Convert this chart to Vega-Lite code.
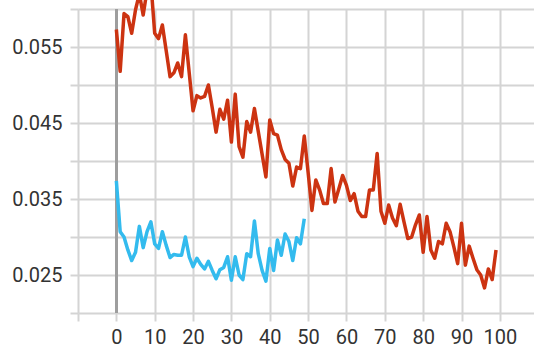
{
  "$schema": "https://vega.github.io/schema/vega-lite/v6.json",
  "width": 456,
  "height": 304,
  "autosize": {"type": "none"},
  "padding": {"left": 78, "top": 9, "right": 0, "bottom": 38},
  "background": "white",
  "config": {
    "view": {"stroke": null},
    "axis": {
      "gridColor": "#d4d4d4",
      "gridWidth": 2,
      "tickColor": "#d4d4d4",
      "tickWidth": 2,
      "tickSize": 8,
      "domain": false,
      "labelFont": "Roboto",
      "labelFontSize": 20,
      "labelColor": "#333333",
      "title": null
    }
  },
  "datasets": {
    "runs": [
      {"run": "red", "step": 0, "value": 0.0573}, {"run": "red", "step": 1, "value": 0.0518}, {"run": "red", "step": 2, "value": 0.0594}, {"run": "red", "step": 3, "value": 0.0590}, {"run": "red", "step": 4, "value": 0.0568},
      {"run": "red", "step": 5, "value": 0.0599}, {"run": "red", "step": 6, "value": 0.0620}, {"run": "red", "step": 7, "value": 0.0592}, {"run": "red", "step": 8, "value": 0.0625}, {"run": "red", "step": 9, "value": 0.0635},
      {"run": "red", "step": 10, "value": 0.0568}, {"run": "red", "step": 11, "value": 0.0561}, {"run": "red", "step": 12, "value": 0.0579}, {"run": "red", "step": 13, "value": 0.0545}, {"run": "red", "step": 14, "value": 0.0511},
      {"run": "red", "step": 15, "value": 0.0516}, {"run": "red", "step": 16, "value": 0.0529}, {"run": "red", "step": 17, "value": 0.0511}, {"run": "red", "step": 18, "value": 0.0566}, {"run": "red", "step": 19, "value": 0.0516},
      {"run": "red", "step": 20, "value": 0.0466}, {"run": "red", "step": 21, "value": 0.0486}, {"run": "red", "step": 22, "value": 0.0483}, {"run": "red", "step": 23, "value": 0.0485}, {"run": "red", "step": 24, "value": 0.0500},
      {"run": "red", "step": 25, "value": 0.0470}, {"run": "red", "step": 26, "value": 0.0438}, {"run": "red", "step": 27, "value": 0.0468}, {"run": "red", "step": 28, "value": 0.0455}, {"run": "red", "step": 29, "value": 0.0480},
      {"run": "red", "step": 30, "value": 0.0425}, {"run": "red", "step": 31, "value": 0.0488}, {"run": "red", "step": 32, "value": 0.0419}, {"run": "red", "step": 33, "value": 0.0405}, {"run": "red", "step": 34, "value": 0.0452},
      {"run": "red", "step": 35, "value": 0.0438}, {"run": "red", "step": 36, "value": 0.0469}, {"run": "red", "step": 37, "value": 0.0439}, {"run": "red", "step": 38, "value": 0.0409}, {"run": "red", "step": 39, "value": 0.0379},
      {"run": "red", "step": 40, "value": 0.0454}, {"run": "red", "step": 41, "value": 0.0436}, {"run": "red", "step": 42, "value": 0.0434}, {"run": "red", "step": 43, "value": 0.0415}, {"run": "red", "step": 44, "value": 0.0402},
      {"run": "red", "step": 45, "value": 0.0397}, {"run": "red", "step": 46, "value": 0.0367}, {"run": "red", "step": 47, "value": 0.0392}, {"run": "red", "step": 48, "value": 0.0390}, {"run": "red", "step": 49, "value": 0.0433},
      {"run": "red", "step": 50, "value": 0.0385}, {"run": "red", "step": 51, "value": 0.0335}, {"run": "red", "step": 52, "value": 0.0375}, {"run": "red", "step": 53, "value": 0.0362}, {"run": "red", "step": 54, "value": 0.0344},
      {"run": "red", "step": 55, "value": 0.0344}, {"run": "red", "step": 56, "value": 0.0390}, {"run": "red", "step": 57, "value": 0.0346}, {"run": "red", "step": 58, "value": 0.0363}, {"run": "red", "step": 59, "value": 0.0381},
      {"run": "red", "step": 60, "value": 0.0368}, {"run": "red", "step": 61, "value": 0.0348}, {"run": "red", "step": 62, "value": 0.0357}, {"run": "red", "step": 63, "value": 0.0334}, {"run": "red", "step": 64, "value": 0.0327},
      {"run": "red", "step": 65, "value": 0.0327}, {"run": "red", "step": 66, "value": 0.0362}, {"run": "red", "step": 67, "value": 0.0362}, {"run": "red", "step": 68, "value": 0.0410}, {"run": "red", "step": 69, "value": 0.0334},
      {"run": "red", "step": 70, "value": 0.0318}, {"run": "red", "step": 71, "value": 0.0342}, {"run": "red", "step": 72, "value": 0.0325}, {"run": "red", "step": 73, "value": 0.0315}, {"run": "red", "step": 74, "value": 0.0343},
      {"run": "red", "step": 75, "value": 0.0320}, {"run": "red", "step": 76, "value": 0.0298}, {"run": "red", "step": 77, "value": 0.0300}, {"run": "red", "step": 78, "value": 0.0316}, {"run": "red", "step": 79, "value": 0.0329},
      {"run": "red", "step": 80, "value": 0.0280}, {"run": "red", "step": 81, "value": 0.0327}, {"run": "red", "step": 82, "value": 0.0283}, {"run": "red", "step": 83, "value": 0.0272}, {"run": "red", "step": 84, "value": 0.0294},
      {"run": "red", "step": 85, "value": 0.0291}, {"run": "red", "step": 86, "value": 0.0318}, {"run": "red", "step": 87, "value": 0.0307}, {"run": "red", "step": 88, "value": 0.0287}, {"run": "red", "step": 89, "value": 0.0265},
      {"run": "red", "step": 90, "value": 0.0318}, {"run": "red", "step": 91, "value": 0.0263}, {"run": "red", "step": 92, "value": 0.0288}, {"run": "red", "step": 93, "value": 0.0272}, {"run": "red", "step": 94, "value": 0.0257},
      {"run": "red", "step": 95, "value": 0.0250}, {"run": "red", "step": 96, "value": 0.0233}, {"run": "red", "step": 97, "value": 0.0258}, {"run": "red", "step": 98, "value": 0.0244}, {"run": "red", "step": 99, "value": 0.0283},
      {"run": "blue", "step": 0, "value": 0.0374}, {"run": "blue", "step": 1, "value": 0.0307}, {"run": "blue", "step": 2, "value": 0.0300}, {"run": "blue", "step": 3, "value": 0.0283}, {"run": "blue", "step": 4, "value": 0.0269},
      {"run": "blue", "step": 5, "value": 0.0280}, {"run": "blue", "step": 6, "value": 0.0314}, {"run": "blue", "step": 7, "value": 0.0286}, {"run": "blue", "step": 8, "value": 0.0307}, {"run": "blue", "step": 9, "value": 0.0320},
      {"run": "blue", "step": 10, "value": 0.0291}, {"run": "blue", "step": 11, "value": 0.0285}, {"run": "blue", "step": 12, "value": 0.0307}, {"run": "blue", "step": 13, "value": 0.0289}, {"run": "blue", "step": 14, "value": 0.0273},
      {"run": "blue", "step": 15, "value": 0.0277}, {"run": "blue", "step": 16, "value": 0.0276}, {"run": "blue", "step": 17, "value": 0.0276}, {"run": "blue", "step": 18, "value": 0.0300}, {"run": "blue", "step": 19, "value": 0.0274},
      {"run": "blue", "step": 20, "value": 0.0261}, {"run": "blue", "step": 21, "value": 0.0272}, {"run": "blue", "step": 22, "value": 0.0264}, {"run": "blue", "step": 23, "value": 0.0258}, {"run": "blue", "step": 24, "value": 0.0268},
      {"run": "blue", "step": 25, "value": 0.0256}, {"run": "blue", "step": 26, "value": 0.0245}, {"run": "blue", "step": 27, "value": 0.0257}, {"run": "blue", "step": 28, "value": 0.0260}, {"run": "blue", "step": 29, "value": 0.0274},
      {"run": "blue", "step": 30, "value": 0.0243}, {"run": "blue", "step": 31, "value": 0.0274}, {"run": "blue", "step": 32, "value": 0.0250}, {"run": "blue", "step": 33, "value": 0.0244}, {"run": "blue", "step": 34, "value": 0.0278},
      {"run": "blue", "step": 35, "value": 0.0274}, {"run": "blue", "step": 36, "value": 0.0321}, {"run": "blue", "step": 37, "value": 0.0278}, {"run": "blue", "step": 38, "value": 0.0256}, {"run": "blue", "step": 39, "value": 0.0242},
      {"run": "blue", "step": 40, "value": 0.0285}, {"run": "blue", "step": 41, "value": 0.0256}, {"run": "blue", "step": 42, "value": 0.0296}, {"run": "blue", "step": 43, "value": 0.0276}, {"run": "blue", "step": 44, "value": 0.0304},
      {"run": "blue", "step": 45, "value": 0.0294}, {"run": "blue", "step": 46, "value": 0.0269}, {"run": "blue", "step": 47, "value": 0.0299}, {"run": "blue", "step": 48, "value": 0.0291}, {"run": "blue", "step": 49, "value": 0.0324}
    ]
  },
  "data": {"name": "runs"},
  "encoding": {
    "x": {
      "field": "step",
      "type": "quantitative",
      "scale": {"domain": [-10, 108.9], "nice": false, "zero": false},
      "axis": {
        "values": [-10, 0, 10, 20, 30, 40, 50, 60, 70, 80, 90, 100],
        "grid": true,
        "labelExpr": "datum.value < 0 ? '' : datum.label",
        "labelPadding": 6,
        "labelFlush": false,
        "labelOverlap": false
      }
    },
    "y": {
      "field": "value",
      "type": "quantitative",
      "scale": {"domain": [0.02, 0.06], "nice": false, "zero": false},
      "axis": {
        "values": [0.02, 0.025, 0.03, 0.035, 0.04, 0.045, 0.05, 0.055, 0.06],
        "grid": true,
        "labelExpr": "(round(datum.value * 1000) % 10 == 5) ? format(datum.value, '.3f') : ''",
        "labelPadding": 8,
        "labelFlush": false,
        "labelOverlap": false
      }
    }
  },
  "layer": [
    {
      "mark": {"type": "rule", "color": "#9e9e9e", "strokeWidth": 2},
      "encoding": {"x": {"datum": 0}, "y": null}
    },
    {
      "mark": {"type": "line", "strokeWidth": 3.5, "strokeJoin": "round", "clip": false},
      "encoding": {
        "color": {
          "field": "run",
          "type": "nominal",
          "scale": {"domain": ["red", "blue"], "range": ["#cc3311", "#33bbee"]},
          "legend": null
        },
        "detail": {"field": "run"}
      }
    }
  ]
}
